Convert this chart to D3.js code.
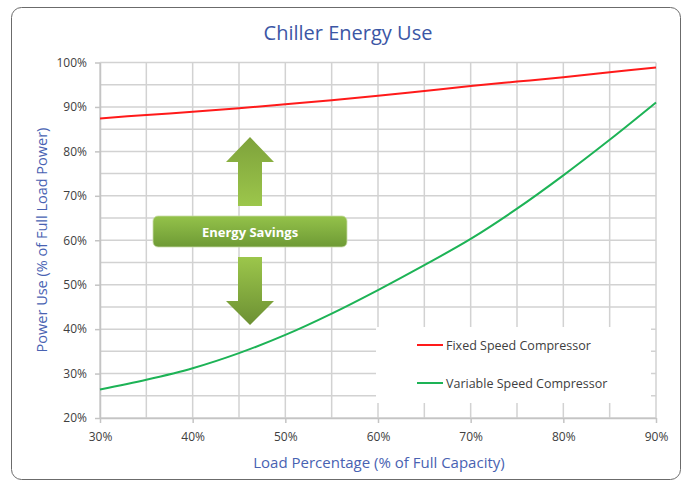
<!DOCTYPE html>
<html>
<head>
<meta charset="utf-8">
<script src="https://cdn.jsdelivr.net/npm/d3@7"></script>
<style>
  body { margin: 0; background: #fff; }
  svg text { font-family: "Open Sans", "Noto Sans", sans-serif; }
</style>
</head>
<body>
<div id="chart"></div>
<script>
// load steps (% of full capacity)
let loads = [30, 35, 40, 45, 50, 55, 60, 65, 70, 75, 80, 85, 90];
// power use (% of full load power)
let fixedSpeed = [87.4, 88.2, 88.9, 89.7, 90.6, 91.5, 92.5, 93.6, 94.7, 95.7, 96.7, 97.8, 98.9];
let variableSpeed = [26.4, 28.6, 31.2, 34.6, 38.7, 43.5, 48.8, 54.4, 60.3, 67.1, 74.6, 82.6, 91.0];
let seriesNames = ["Fixed Speed Compressor", "Variable Speed Compressor"];
let xTicks = [30, 40, 50, 60, 70, 80, 90];
let yTicks = [20, 30, 40, 50, 60, 70, 80, 90, 100];

let width = 690, height = 480;
let margin = {left: 100, right: 34, top: 62.5, bottom: 62};
let plotW = width - margin.left - margin.right,
    plotH = height - margin.top - margin.bottom;

var svg = d3.select("#chart")
    .append("svg")
    .attr("width", width)
    .attr("height", height);

// outer frame
svg.append("rect")
    .attr("x", 11.5).attr("y", 7.5)
    .attr("width", 669).attr("height", 472)
    .attr("rx", 10).attr("ry", 10)
    .attr("fill", "#fff")
    .attr("stroke", "#6b6b6b")
    .attr("stroke-width", 1);

var x = d3.scaleLinear().domain([30, 90]).range([0, plotW]);
var y = d3.scaleLinear().domain([20, 100]).range([plotH, 0]);

var g = svg.append("g")
    .attr("transform", `translate(${margin.left},${margin.top})`);

// grid every 5%
let gridX = d3.range(30, 91, 5), gridY = d3.range(20, 101, 5);
g.selectAll(".gx").data(gridX).enter().append("line")
    .attr("x1", d => x(d)).attr("x2", d => x(d))
    .attr("y1", 0).attr("y2", plotH)
    .attr("stroke", "#d2d2d2").attr("stroke-width", 1.5);
g.selectAll(".gy").data(gridY).enter().append("line")
    .attr("x1", 0).attr("x2", plotW)
    .attr("y1", d => y(d)).attr("y2", d => y(d))
    .attr("stroke", "#d2d2d2").attr("stroke-width", 1.5);

// axes
let xAxis = g.append("g")
    .attr("transform", `translate(0,${plotH})`)
    .call(d3.axisBottom(x).tickValues(xTicks).tickFormat(d => d + "%").tickSize(5).tickSizeOuter(0).tickPadding(9));
let yAxis = g.append("g")
    .call(d3.axisLeft(y).tickValues(yTicks).tickFormat(d => d + "%").tickSize(5).tickSizeOuter(0).tickPadding(8));
[xAxis, yAxis].forEach(a => {
    a.select(".domain").attr("stroke", "#c4c4c4").attr("stroke-width", 1.5);
    a.selectAll(".tick line").attr("stroke", "#c4c4c4").attr("stroke-width", 1.5);
    a.selectAll("text").attr("fill", "#404040").style("font-size", "12px");
});

// energy savings graphic
var defs = svg.append("defs");
function grad(id, c1, c2) {
    let lg = defs.append("linearGradient").attr("id", id)
        .attr("x1", 0).attr("y1", 0).attr("x2", 0).attr("y2", 1);
    lg.append("stop").attr("offset", "0%").attr("stop-color", c1);
    lg.append("stop").attr("offset", "100%").attr("stop-color", c2);
}
grad("upGrad", "#7ea23b", "#9cc64b");
grad("downGrad", "#9cc64b", "#6c9033");
grad("bandGrad", "#94c24a", "#6e9a35");

let ax = 250; // arrow centre
svg.append("path")
    .attr("d", `M${ax},137 L${ax + 24},162 L${ax + 12},162 L${ax + 12},206 L${ax - 12},206 L${ax - 12},162 L${ax - 24},162 Z`)
    .attr("fill", "url(#upGrad)");
svg.append("path")
    .attr("d", `M${ax},325 L${ax + 24},301 L${ax + 12},301 L${ax + 12},257 L${ax - 12},257 L${ax - 12},301 L${ax - 24},301 Z`)
    .attr("fill", "url(#downGrad)");
svg.append("rect")
    .attr("x", 153).attr("y", 216)
    .attr("width", 194).attr("height", 31)
    .attr("rx", 5)
    .attr("fill", "url(#bandGrad)")
    .attr("stroke", "#c9dca8").attr("stroke-width", 0.8);
svg.append("text")
    .attr("x", 250).attr("y", 236.5)
    .attr("text-anchor", "middle")
    .attr("fill", "#fff")
    .style("font-size", "13px")
    .style("font-weight", "bold")
    .text("Energy Savings");

// lines
var line = d3.line()
    .x(d => x(d[0]))
    .y(d => y(d[1]))
    .curve(d3.curveCatmullRom.alpha(0.5));
let colors = ["#ff1a1a", "#1db356"];
[fixedSpeed, variableSpeed].forEach((vals, i) => {
    g.append("path")
        .datum(loads.map((l, j) => [l, vals[j]]))
        .attr("d", line)
        .attr("fill", "none")
        .attr("stroke", colors[i])
        .attr("stroke-width", 2);
});

// legend
let leg = svg.append("g");
leg.append("rect")
    .attr("x", 376).attr("y", 327)
    .attr("width", 275).attr("height", 76)
    .attr("fill", "#fff");
seriesNames.forEach((name, i) => {
    let ly = 345 + i * 38;
    leg.append("line")
        .attr("x1", 417).attr("x2", 443)
        .attr("y1", ly).attr("y2", ly)
        .attr("stroke", colors[i]).attr("stroke-width", 2);
    leg.append("text")
        .attr("x", 446).attr("y", ly + 4.5)
        .attr("fill", "#404040")
        .style("font-size", "12.5px")
        .text(name);
});

// titles
svg.append("text")
    .attr("x", 348).attr("y", 40)
    .attr("text-anchor", "middle")
    .attr("fill", "#3b56a5")
    .style("font-size", "20px")
    .text("Chiller Energy Use");
svg.append("text")
    .attr("x", 379).attr("y", 468)
    .attr("text-anchor", "middle")
    .attr("fill", "#4862b2")
    .style("font-size", "15px")
    .text("Load Percentage (% of Full Capacity)");
svg.append("text")
    .attr("transform", "translate(47,240) rotate(-90)")
    .attr("text-anchor", "middle")
    .attr("fill", "#4862b2")
    .style("font-size", "14.5px")
    .text("Power Use (% of Full Load Power)");
</script>
</body>
</html>
